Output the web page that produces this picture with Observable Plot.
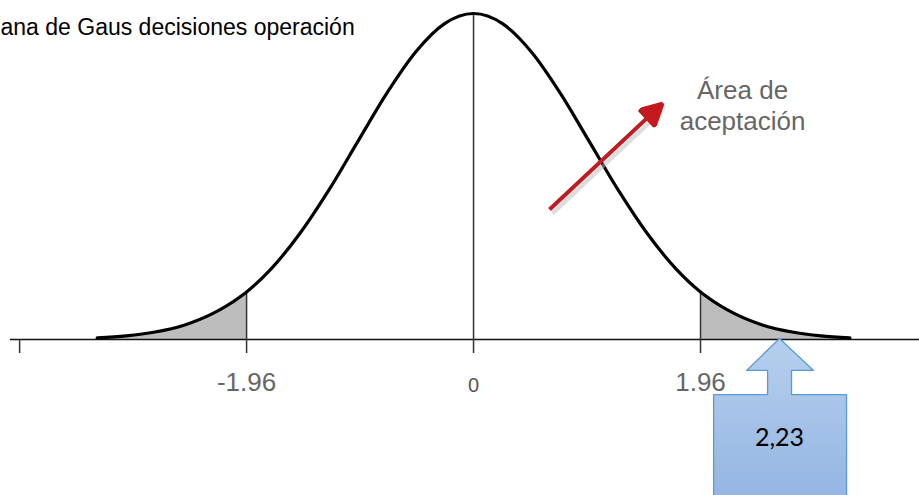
<!DOCTYPE html>
<html>
<head>
<meta charset="utf-8">
<script src="https://cdn.jsdelivr.net/npm/d3@7"></script>
<script src="https://cdn.jsdelivr.net/npm/@observablehq/plot@0.6"></script>
<style>
  html, body { margin: 0; padding: 0; background: #fff; overflow: hidden; }
</style>
</head>
<body>
<div id="chart"></div>
<script>
// ---- data ----
const titleText = "ana de Gaus decisiones operación";
const zValues = [-3.25,-3,-2.75,-2.5,-2.25,-2,-1.96,-1.75,-1.5,-1.25,-1,-0.75,-0.5,-0.25,0,0.25,0.5,0.75,1,1.25,1.5,1.75,1.96,2,2.25,2.5,2.75,3,3.25];
const heights = [0.005,0.011,0.023,0.044,0.080,0.135,0.146,0.216,0.325,0.458,0.607,0.755,0.882,0.969,1,0.969,0.882,0.755,0.607,0.458,0.325,0.216,0.146,0.135,0.080,0.044,0.023,0.011,0.005];
const criticalValue = 1.96;
const tickValues = [-3.92, -1.96, 0, 1.96];
const tickTops = [0, 0.146, 1, 0.146];
const tickLabels = ["-1.96", "1.96"];
const tickLabelValues = [-1.96, 1.96];
const zeroLabel = "0";
const axisStart = -4.0;
const axisEnd = 3.851;
const areaLabel = "Área de\naceptación";
const areaLabelPos = [2.323, 0.721];
const redArrowFrom = [0.656, 0.399];
const redArrowTo = [1.606, 0.715];
const calloutText = "2,23";
const calloutTextPos = [2.642, -0.301];
const calloutPolyX = [2.642, 2.936, 2.746, 2.746, 3.221, 3.221, 2.073, 2.073, 2.539, 2.539, 2.358, 2.642];
const calloutPolyY = [0.003, -0.095, -0.095, -0.169, -0.169, -0.65, -0.65, -0.169, -0.169, -0.095, -0.095, 0.003];

// ---- tables ----
const curve = zValues.map((z, i) => ({z, h: heights[i]}));
const leftTail = curve.filter(d => d.z <= -criticalValue);
const rightTail = curve.filter(d => d.z >= criticalValue);
const ticks = tickValues.map((z, i) => ({z, top: tickTops[i]}));
const labels = tickLabels.map((t, i) => ({z: tickLabelValues[i], t}));
const callout = calloutPolyX.map((x, i) => ({x, y: calloutPolyY[i]}));

function arrowHead(color, context) {
  const doc = (context && context.document) || document;
  const ns = "http://www.w3.org/2000/svg";
  const m = doc.createElementNS(ns, "marker");
  m.setAttribute("viewBox", "-20 -12 26 24");
  m.setAttribute("markerUnits", "userSpaceOnUse");
  m.setAttribute("markerWidth", 26);
  m.setAttribute("markerHeight", 24);
  m.setAttribute("refX", 0);
  m.setAttribute("refY", 0);
  m.setAttribute("orient", "auto");
  const p = doc.createElementNS(ns, "path");
  p.setAttribute("d", "M-17,-11L4,0L-17,11Z");
  p.setAttribute("fill", color);
  m.appendChild(p);
  return m;
}

function defsMark(index, scales) {
  const y = scales.y;
  const defs = d3.create("svg:defs");
  const g = defs.append("linearGradient")
    .attr("id", "calloutGrad")
    .attr("gradientUnits", "userSpaceOnUse")
    .attr("x1", 0).attr("x2", 0)
    .attr("y1", y(0)).attr("y2", y(-0.5));
  g.append("stop").attr("offset", "0%").attr("stop-color", "#b6cfee");
  g.append("stop").attr("offset", "100%").attr("stop-color", "#93b5e2");
  return defs.node();
}

const chart = Plot.plot({
  width: 919,
  height: 495,
  margin: 0,
  x: {domain: [-4.085, 3.851], range: [0, 919], axis: null},
  y: {domain: [0, 1], range: [339, 13], axis: null},
  style: {fontFamily: "'Liberation Sans', Arial, sans-serif", background: "#fff", overflow: "hidden"},
  marks: [
    defsMark,
    Plot.areaY(leftTail, {x: "z", y: "h", fill: "#bdbdbd", curve: "monotone-x"}),
    Plot.areaY(rightTail, {x: "z", y: "h", fill: "#bdbdbd", curve: "monotone-x"}),
    Plot.ruleY([0], {x1: axisStart, x2: axisEnd, stroke: "#111", strokeWidth: 1.6}),
    Plot.ruleX(ticks, {x: "z", y1: -0.043, y2: "top", stroke: "#333", strokeWidth: 1.5}),
    Plot.line(curve, {x: "z", y: "h", stroke: "#000", strokeWidth: 3.2, curve: "monotone-x"}),
    Plot.text(labels, {x: "z", y: -0.133, text: "t", fill: "#666", fontSize: 26}),
    Plot.text([zeroLabel], {x: 0, y: -0.141, text: d => d, fill: "#555", fontSize: 20}),
    Plot.text([areaLabel], {x: areaLabelPos[0], y: areaLabelPos[1], text: d => d, fill: "#666", fontSize: 26, lineHeight: 1.18}),
    Plot.link([0], {x1: redArrowFrom[0], y1: redArrowFrom[1], x2: redArrowTo[0], y2: redArrowTo[1], stroke: "#bbb", strokeOpacity: 0.5, strokeWidth: 4, dx: 3, dy: 4}),
    Plot.link([0], {x1: redArrowFrom[0], y1: redArrowFrom[1], x2: redArrowTo[0], y2: redArrowTo[1], stroke: "#c41a1f", strokeWidth: 4, markerEnd: arrowHead}),
    Plot.line(callout, {x: "x", y: "y", fill: "url(#calloutGrad)", stroke: "#5b9bd5", strokeWidth: 1.3, curve: "linear"}),
    Plot.text([calloutText], {x: calloutTextPos[0], y: calloutTextPos[1], text: d => d, fill: "#000", fontSize: 25, fontFamily: "Lato, 'Open Sans', sans-serif"}),
    Plot.text([titleText], {frameAnchor: "top-left", text: d => d, textAnchor: "start", lineAnchor: "middle", dy: 27, dx: 0, fill: "#000", fontSize: 23})
  ]
});
document.getElementById("chart").appendChild(chart);
</script>
</body>
</html>
